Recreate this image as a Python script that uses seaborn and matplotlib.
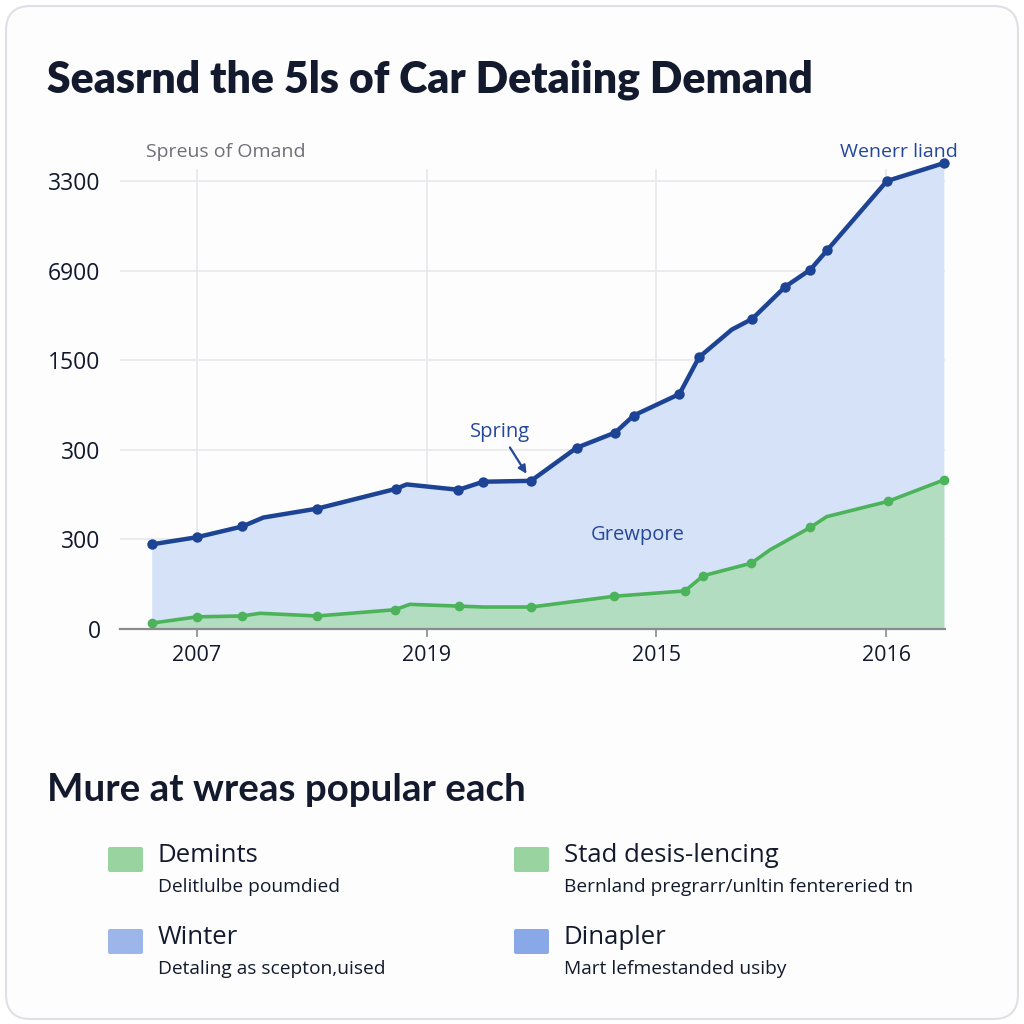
import matplotlib
matplotlib.use("Agg")
import matplotlib.pyplot as plt
import seaborn as sns
import numpy as np
import pandas as pd
from matplotlib.patches import FancyBboxPatch

# ---------------- data ----------------
title = "Seasrnd the 5ls of Car Detaiing Demand"
subtitle_left = "Spreus of Omand"
subtitle_right = "Wenerr liand"
section_title = "Mure at wreas popular each"

x_tick_pos = [0, 1, 2, 3]
x_tick_labels = ["2007", "2019", "2015", "2016"]
y_tick_pos = [0, 100, 200, 300, 400, 500]
y_tick_labels = ["0", "300", "300", "1500", "6900", "3300"]

blue_x = [-0.197, 0.0, 0.197, 0.289, 0.524, 0.865, 0.913, 1.138, 1.246, 1.454,
          1.653, 1.821, 1.901, 2.100, 2.185, 2.328, 2.417, 2.561, 2.670, 2.744,
          3.003, 3.251]
blue_y = [94, 102, 114, 124, 134, 156, 161, 155, 164, 165,
          202, 219, 238, 262, 303, 334, 346, 382, 401, 423,
          500, 520]
blue_marked = [0, 1, 2, 4, 5, 7, 8, 9, 10, 11, 12, 13, 14, 16, 17, 18, 19, 20, 21]

green_x = [-0.197, 0.0, 0.197, 0.274, 0.524, 0.862, 0.927, 1.142, 1.246, 1.455,
           1.815, 2.124, 2.204, 2.413, 2.495, 2.670, 2.741, 3.007, 3.251]
green_y = [6, 13, 14, 17, 14, 21, 27, 25, 24, 24,
           36, 42, 59, 73, 88, 113, 125, 142, 166]
green_marked = [0, 1, 2, 4, 5, 7, 9, 10, 11, 12, 13, 15, 17, 18]

annot_spring = "Spring"
annot_spring_idx = 9
annot_mid = "Grewpore"

legend_heads = ["Demints", "Stad desis-lencing", "Winter", "Dinapler"]
legend_subs = ["Delitlulbe poumdied", "Bernland pregrarr/unltin fentereried tn",
               "Detaling as scepton,uised", "Mart lefmestanded usiby"]
legend_colors = ["#98d3a0", "#98d3a0", "#9db6ea", "#88a8e8"]

# ---------------- style ----------------
sns.set_theme(style="white")
plt.rcParams['font.family'] = ['Open Sans', 'DejaVu Sans']

W = H = 1024
fig = plt.figure(figsize=(10.24, 10.24), dpi=100)
fig.patch.set_facecolor("white")

def fx(px):
    return px / W

def fy(py):
    return 1 - py / H

# card background
card = FancyBboxPatch((fx(6), fy(1019)), fx(1012), 1013 / H,
                      boxstyle="round,pad=0,rounding_size=0.024",
                      transform=fig.transFigure, facecolor="#fdfdfe",
                      edgecolor="#dfe0e5", linewidth=1.5, zorder=-10)
fig.add_artist(card)

BLUE = "#1d4494"
BLUE_FILL = "#d6e2f7"
GREEN = "#4cb35a"
GREEN_FILL = "#b3ddc0"
TEXT = "#141a2e"

ax_left, ax_right = 120, 945
ax_bottom, ax_top = 628.5, 169.4
ax = fig.add_axes([fx(ax_left), fy(ax_bottom), (ax_right - ax_left) / W,
                   (ax_bottom - ax_top) / H])
ax.set_zorder(1)
ax.set_facecolor("none")
ax.patch.set_alpha(0)

bdf = pd.DataFrame({"x": blue_x, "y": blue_y})
gdf = pd.DataFrame({"x": green_x, "y": green_y})

ax.fill_between(bdf["x"], 0, bdf["y"], color=BLUE_FILL, linewidth=0, zorder=1, clip_on=False)
ax.fill_between(gdf["x"], 0, gdf["y"], color=GREEN_FILL, linewidth=0, zorder=2, clip_on=False)

sns.lineplot(data=bdf, x="x", y="y", ax=ax, color=BLUE, linewidth=3.2,
             marker="o", markersize=7.5, markevery=blue_marked,
             markeredgewidth=0, zorder=4, clip_on=False)
sns.lineplot(data=gdf, x="x", y="y", ax=ax, color=GREEN, linewidth=2.6,
             marker="o", markersize=7, markevery=green_marked,
             markeredgewidth=0, zorder=3, clip_on=False)

ax.set_xlim(-0.335, 3.256)
ax.set_ylim(0, 513)

ax.set_yticks(y_tick_pos)
ax.set_yticklabels(y_tick_labels)
ax.set_xticks(x_tick_pos)
ax.set_xticklabels(x_tick_labels)
ax.grid(True, color="#e8e8ed", linewidth=1.2)
ax.set_axisbelow(True)
for s in ["top", "right", "left"]:
    ax.spines[s].set_visible(False)
ax.spines["bottom"].set_color("#8a8a8f")
ax.spines["bottom"].set_linewidth(1.6)
ax.spines["bottom"].set_zorder(5)
ax.tick_params(axis="y", length=0, pad=14, labelsize=16.5, labelcolor=TEXT)
ax.tick_params(axis="x", length=6, width=1.2, color="#8a8a8f", direction="out",
               bottom=True, pad=6, labelsize=15.5, labelcolor=TEXT)
ax.set_xlabel("")
ax.set_ylabel("")

# annotations
ax.annotate(annot_spring, xy=(blue_x[annot_spring_idx], blue_y[annot_spring_idx]),
            xytext=(-31, 49), textcoords="offset pixels", ha="center", va="center",
            fontsize=14.5, color="#24479a", zorder=6,
            arrowprops=dict(arrowstyle="-|>", color="#24479a", lw=1.6,
                            shrinkA=2, shrinkB=6, mutation_scale=12))

fig.text(fx(638), fy(535), annot_mid, ha="center", va="center",
         fontsize=14.5, color="#24479a", zorder=5)
fig.text(fx(146), fy(152), subtitle_left, ha="left", va="center",
         fontsize=14, color="#6f6f78")
fig.text(fx(958), fy(152), subtitle_right, ha="right", va="center",
         fontsize=14, color="#24479a", zorder=5)

# titles
fig.text(fx(47), fy(80), title, ha="left", va="center", fontsize=30.8,
         fontweight="heavy", color=TEXT, family=["Lato", "DejaVu Sans"])
fig.text(fx(47), fy(790), section_title, ha="left", va="center", fontsize=27.7,
         fontweight="bold", color=TEXT, family=["Lato", "DejaVu Sans"])

# legend
col_x = [108, 514]
row_y = [847, 929]
for i, head in enumerate(legend_heads):
    cx = col_x[i % 2]
    ry = row_y[i // 2]
    sw = FancyBboxPatch((fx(cx), fy(ry + 25)), 35 / W, 25 / H,
                        boxstyle="round,pad=0,rounding_size=0.002",
                        transform=fig.transFigure, facecolor=legend_colors[i],
                        edgecolor="none", zorder=2)
    fig.add_artist(sw)
    fig.text(fx(cx + 50), fy(ry + 8), head, ha="left", va="center",
             fontsize=18.5, color=TEXT)
    fig.text(fx(cx + 50), fy(ry + 40), legend_subs[i], ha="left", va="center",
             fontsize=13.8, color=TEXT)

fig.savefig("out.png", dpi=100, facecolor="white")
